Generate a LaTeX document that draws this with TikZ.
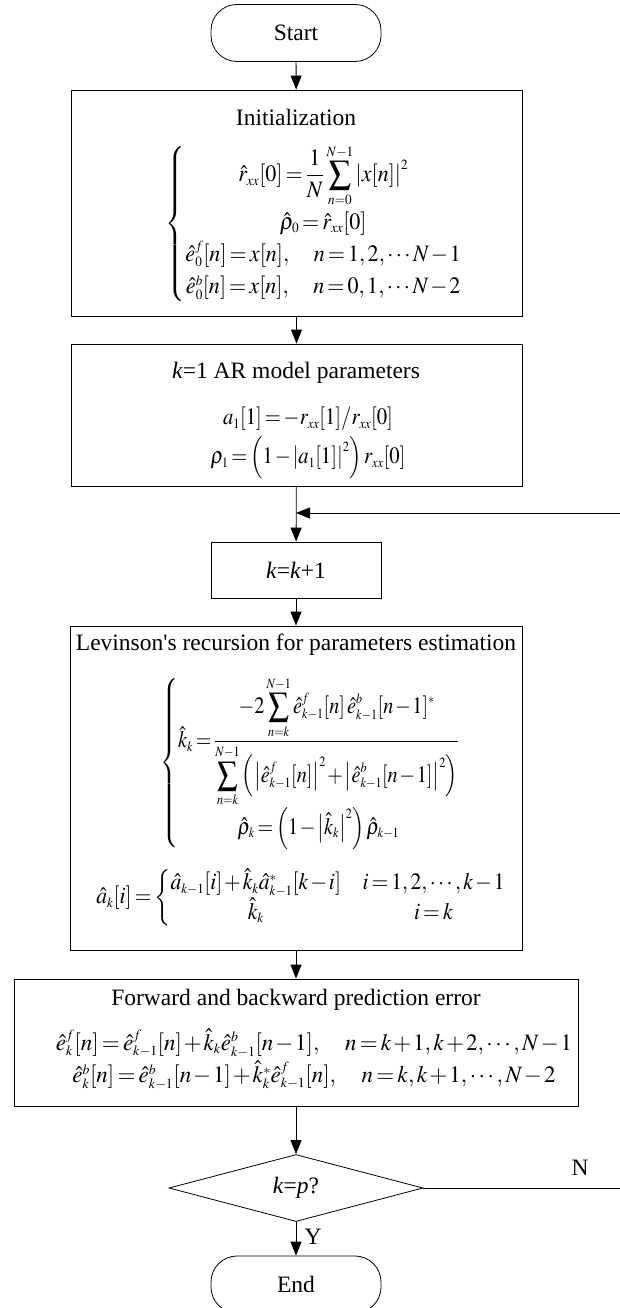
\documentclass[tikz,border=0pt]{standalone}
\usepackage{graphicx}
\usepackage{mathptmx}
\usepackage{fontspec}
\setmainfont{Liberation Serif}
\usetikzlibrary{arrows.meta,shapes.geometric}
\renewcommand{\defaultscriptratio}{.6}
\renewcommand{\defaultscriptscriptratio}{.45}
\newcommand{\tightmath}{\thickmuskip=2.5mu\relax\medmuskip=1.5mu\relax}
\newcommand{\sqz}[2]{\scalebox{#1}[1]{#2}}
\tikzset{
  fnt/.style={font=\fontsize{23.5}{28}\selectfont\tightmath},
  box/.style={draw, line width=0.8pt, rectangle, inner sep=0pt},
  term/.style={draw, line width=0.8pt, rectangle, rounded corners=26pt, minimum width=170pt, minimum height=57pt, inner sep=0pt, fnt},
  dec/.style={draw, line width=0.8pt, diamond, aspect=4, minimum width=254pt, minimum height=67pt, inner sep=0pt, fnt},
  txt/.style={fnt, inner sep=0pt},
  arr/.style={-{Triangle[length=14pt,width=11pt]}, line width=0.8pt},
  ln/.style={line width=0.8pt}
}
\begin{document}
\begin{tikzpicture}[x=1pt,y=-1pt]
\useasboundingbox (0,0) rectangle (620,1308);
% Start
\node[term] (start) at (296,33) {Start};
% Initialization
\node[box, minimum width=451pt, minimum height=226pt] (init) at (296.5,203) {};
\node[txt] (initT) at (296,117) {Initialization};
\node[txt] (initE) at (314,224) {\sqz{0.94}{$\renewcommand{\arraystretch}{1.15}\left\{\begin{array}{@{}c@{}}
\displaystyle \hat{r}_{xx}[0]=\frac{1}{N}\sum_{n=0}^{N-1}\left|x[n]\right|^2\\
\hat{\rho}_0=\hat{r}_{xx}[0]\\
\hat{e}_0^f[n]=x[n],\quad n=1,2,\cdots N-1\\
\hat{e}_0^b[n]=x[n],\quad n=0,1,\cdots N-2
\end{array}\right.$}};
% k=1
\node[box, minimum width=451pt, minimum height=142pt] (kone) at (296.5,415) {};
\node[txt] (koneT) at (296,373) {\textit{k}=1 AR model parameters};
\node[txt] (koneE) at (308,438) {\sqz{0.88}{$\renewcommand{\arraystretch}{1.4}\begin{array}{@{}c@{}}
a_1[1]=-r_{xx}[1]/r_{xx}[0]\\
\rho_1=\left(1-\left|a_1[1]\right|^2\right)r_{xx}[0]
\end{array}$}};
% junction and feedback
\coordinate (fb) at (620,513);
\coordinate (jn) at (296,513);
% k=k+1
\node[box, minimum width=170pt, minimum height=56pt, txt] (kk) at (296,570) {\textit{k}=\textit{k}+1};
% Levinson
\node[box, minimum width=452pt, minimum height=324pt] (lev) at (296,788) {};
\node[txt] (levT) at (296,645) {Levinson\textquotesingle s recursion for parameters estimation};
\node[txt] (levE) at (310,763) {\sqz{0.86}{$\renewcommand{\arraystretch}{1.2}\left\{\begin{array}{@{}c@{}}
\displaystyle \hat{k}_k=\frac{\displaystyle -2\sum_{n=k}^{N-1}\hat{e}^f_{k-1}[n]\,\hat{e}^b_{k-1}[n-1]^*}{\displaystyle \sum_{n=k}^{N-1}\left(\left|\hat{e}^f_{k-1}[n]\right|^2+\left|\hat{e}^b_{k-1}[n-1]\right|^2\right)}\\[6pt]
\hat{\rho}_k=\left(1-\left|\hat{k}_k\right|^2\right)\hat{\rho}_{k-1}
\end{array}\right.$}};
\node[txt] (levA) at (301,898) {\sqz{0.92}{$\hat{a}_k[i]=\left\{\begin{array}{@{}c@{\quad}c@{}}
\hat{a}_{k-1}[i]+\hat{k}_k\hat{a}^*_{k-1}[k-i] & i=1,2,\cdots,k-1\\
\hat{k}_k & i=k
\end{array}\right.$}};
% Forward / backward
\node[box, minimum width=564pt, minimum height=127pt] (fwd) at (296,1042.5) {};
\node[txt] (fwdT) at (296,1000) {Forward and backward prediction error};
\node[txt] (fwdE) at (314,1060) {\sqz{0.98}{$\renewcommand{\arraystretch}{1.15}\begin{array}{@{}c@{}}
\hat{e}^f_k[n]=\hat{e}^f_{k-1}[n]+\hat{k}_k\hat{e}^b_{k-1}[n-1],\quad n=k+1,k+2,\cdots,N-1\\
\hat{e}^b_k[n]=\hat{e}^b_{k-1}[n-1]+\hat{k}^*_k\hat{e}^f_{k-1}[n],\quad n=k,k+1,\cdots,N-2
\end{array}$}};
% Decision
\node[dec] (dec) at (296,1188) {\textit{k}=\textit{p}?};
\coordinate (nend) at (620,1188);
\node[txt] (nlab) at (580,1168) {N};
\node[txt] (ylab) at (313,1237) {Y};
% End
\node[term] (end) at (296,1284.5) {End};
% connectors
\draw[arr] (start) -- (init);
\draw[arr] (init) -- (kone);
\draw[arr] (kone) -- (kk);
\draw[arr] (fb) -- (jn);
\draw[arr] (kk) -- (lev);
\draw[arr] (lev) -- (fwd);
\draw[arr] (fwd) -- (dec);
\draw[arr] (dec) -- (end);
\draw[ln] (dec.east) -- (nend);
\end{tikzpicture}
\end{document}
